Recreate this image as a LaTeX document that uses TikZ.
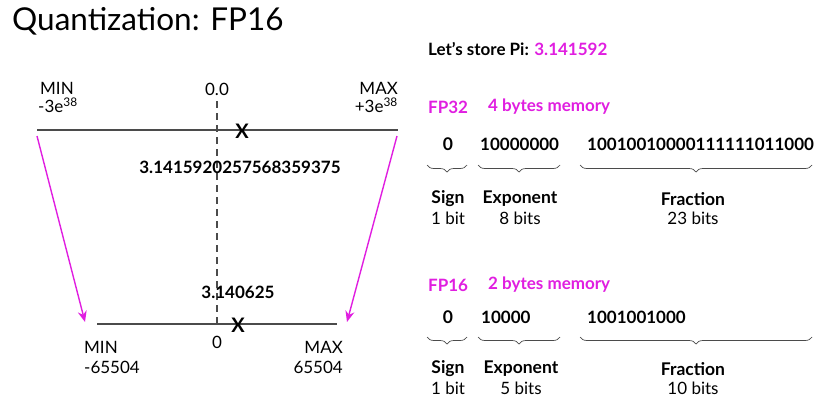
\documentclass[tikz,border=0pt]{standalone}
\usepackage{fontspec}
\setmainfont{Lato}
\usetikzlibrary{arrows.meta,decorations.pathreplacing}
\definecolor{pimag}{RGB}{224,30,224}
\definecolor{axisgray}{RGB}{75,75,75}
\newcommand{\bodysize}{\fontsize{17}{20}\selectfont}
\newcommand{\bitsize}{\fontsize{17}{20}\selectfont}

\begin{document}
\begin{tikzpicture}[x=1pt,y=-1pt,
    lbl/.style={inner sep=0pt,font=\bodysize},
    bits/.style={inner sep=0pt,anchor=west,font=\bfseries\bitsize},
    field/.style={inner sep=0pt,font=\bfseries\fontsize{17.5}{21}\selectfont},
    width/.style={inner sep=0pt,font=\bitsize},
    fmt/.style={inner sep=0pt,anchor=west,text=pimag,font=\bfseries\bitsize},
    brace/.style={decorate,decoration={brace,mirror,amplitude=7pt},draw=axisgray,line width=0.7pt},
    axis/.style={draw=axisgray,line width=1.5pt},
    squash/.style={draw=pimag,line width=1.4pt,-{Stealth[length=11pt,width=9pt]}}]
  \useasboundingbox (0,0) rectangle (838,400);

  % title and value
  \node [anchor=base west,inner sep=0pt,font=\fontsize{31.5}{38}\selectfont] (title) at (12,30) {Quantization: FP16};
  \node [anchor=base west,inner sep=0pt,font=\bfseries\fontsize{17}{20}\selectfont] (pi) at (428,55) {Let's store Pi: \textcolor{pimag}{3.141592}};

  % fp32 range
  \coordinate (tl) at (37,130);
  \coordinate (tr) at (398,130);
  \coordinate (bl) at (97,324);
  \coordinate (br) at (337,324);
  \coordinate (d1) at (217,101);
  \coordinate (d2) at (217,324);

  \draw [axisgray,dashed,dash pattern=on 7pt off 5pt,line width=1.2pt] (d1) -- (d2);
  \draw [axis] (tl) -- (tr);
  \draw [axis] (bl) -- (br);

  \node [lbl,anchor=west] (min32) at (40,88) {MIN};
  \node [lbl,anchor=west] (minv32) at (38,105) {-3e\textsuperscript{38}};
  \node [lbl,anchor=east] (max32) at (398,88) {MAX};
  \node [lbl,anchor=east] (maxv32) at (398,105) {+3e\textsuperscript{38}};
  \node [lbl] (zero32) at (217,89) {0.0};
  \node [inner sep=0pt,font=\bfseries\fontsize{20}{24}\selectfont] (x32) at (242,131) {X};
  \node [inner sep=0pt,font=\bfseries\bodysize] (val32) at (240,167) {3.1415920257568359375};

  % fp16 range
  \node [inner sep=0pt,font=\bfseries\bodysize] (val16) at (238,292) {3.140625};
  \node [inner sep=0pt,font=\bfseries\fontsize{20}{24}\selectfont] (x16) at (238,325) {X};
  \node [lbl] (zero16) at (217,342) {0};
  \node [lbl,anchor=west] (min16) at (84,347) {MIN};
  \node [lbl,anchor=west] (minv16) at (84,367) {-65504};
  \node [lbl,anchor=east] (max16) at (343,347) {MAX};
  \node [lbl,anchor=east] (maxv16) at (343,367) {65504};

  \coordinate (ls) at (37,136);
  \coordinate (le) at (85,322);
  \coordinate (rs) at (397,136);
  \coordinate (re) at (347,322);
  \draw [squash] (ls) -- (le);
  \draw [squash] (rs) -- (re);

  % fp32 layout
  \node [fmt] (fp32) at (428,107) {FP32};
  \node [fmt] (mem32) at (488,107) {4 bytes memory};
  \node [field] (s32) at (448,144) {0};
  \node [bits] (e32) at (480,144) {10000000};
  \node [bits] (f32) at (587,144) {10010010000111111011000};
  \draw [brace] (427,165) -- (467,165);
  \draw [brace] (478,165) -- (560,165);
  \draw [brace] (580,165) -- (812,165);
  \node [field] (sl32) at (448,199) {Sign};
  \node [width] (sw32) at (448,218) {1 bit};
  \node [field] (el32) at (520,199) {Exponent};
  \node [width] (ew32) at (520,218) {8 bits};
  \node [field] (fl32) at (693,199) {Fraction};
  \node [width] (fw32) at (693,218) {23 bits};

  % fp16 layout
  \node [fmt] (fp16) at (428,285) {FP16};
  \node [fmt] (mem16) at (488,285) {2 bytes memory};
  \node [field] (s16) at (448,317) {0};
  \node [bits] (e16) at (481,317) {10000};
  \node [bits] (f16) at (587,317) {1001001000};
  \draw [brace] (427,337) -- (467,337);
  \draw [brace] (478,337) -- (560,337);
  \draw [brace] (580,337) -- (812,337);
  \node [field] (sl16) at (448,369) {Sign};
  \node [width] (sw16) at (448,388) {1 bit};
  \node [field] (el16) at (521,369) {Exponent};
  \node [width] (ew16) at (521,388) {5 bits};
  \node [field] (fl16) at (693,369) {Fraction};
  \node [width] (fw16) at (693,388) {10 bits};
\end{tikzpicture}
\end{document}
